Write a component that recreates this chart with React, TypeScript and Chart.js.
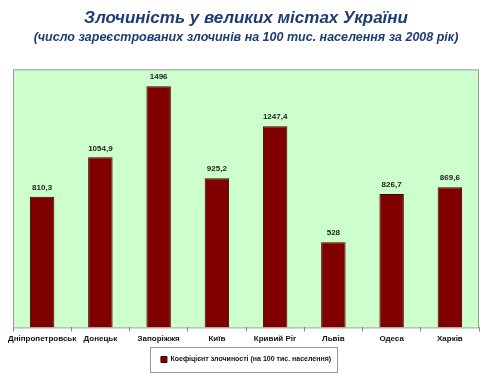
import React, { useEffect, useRef } from "react";
import { Chart, registerables } from "chart.js";

Chart.register(...registerables);

const cities = ["Дніпропетровськ", "Донецьк", "Запоріжжя", "Київ", "Кривий Ріг", "Львів", "Одеса", "Харків"];
const crimeRate = [810.3, 1054.9, 1496, 925.2, 1247.4, 528, 826.7, 869.6];
const seriesName = "Коефіцієнт злочиності (на 100 тис. населення)";
const titleText = "Злочиність у великих містах України";
const subtitleText = "(число зареєстрованих злочинів на 100 тис. населення за 2008 рік)";

const fmt = (v: number) => String(v).replace(".", ",");

const bgPlugin = {
  id: "bgPlugin",
  beforeDraw(chart: any) {
    const { ctx, chartArea: a } = chart;
    ctx.save();
    ctx.fillStyle = "#ffffff";
    ctx.fillRect(0, 0, chart.width, chart.height);
    ctx.fillStyle = "#CCFFCC";
    ctx.fillRect(a.left, a.top, a.right - a.left, a.bottom - a.top);
    ctx.strokeStyle = "#9a9a9a";
    ctx.lineWidth = 1;
    ctx.strokeRect(a.left + 0.5, a.top + 0.5, a.right - a.left - 1, a.bottom - a.top);
    ctx.restore();
  },
  afterDraw(chart: any) {
    const { ctx } = chart;
    const meta = chart.getDatasetMeta(0);
    ctx.save();
    ctx.font = "bold 8px Arial, 'Liberation Sans', sans-serif";
    ctx.fillStyle = "#222222";
    ctx.textAlign = "center";
    ctx.textBaseline = "bottom";
    meta.data.forEach((bar: any, i: number) => {
      ctx.fillText(fmt(crimeRate[i]), bar.x, bar.y - 5);
    });
    const lg = chart.legend;
    if (lg && lg.legendHitBoxes && lg.legendHitBoxes.length) {
      const hb = lg.legendHitBoxes;
      const l = Math.min(...hb.map((h: any) => h.left)) - 11;
      const r = Math.max(...hb.map((h: any) => h.left + h.width)) + 6;
      const t = Math.min(...hb.map((h: any) => h.top)) - 9;
      const b = Math.max(...hb.map((h: any) => h.top + h.height)) + 9;
      ctx.strokeStyle = "#9a9a9a";
      ctx.lineWidth = 1;
      ctx.strokeRect(Math.round(l) + 0.5, Math.round(t) + 0.5, Math.round(r - l), Math.round(b - t));
    }
    ctx.restore();
  },
};

export default function App() {
  const ref = useRef<HTMLCanvasElement>(null);
  useEffect(() => {
    document.body.style.margin = "0";
    const chart = new Chart(ref.current!, {
      type: "bar",
      data: {
        labels: cities,
        datasets: [
          {
            label: seriesName,
            data: crimeRate,
            backgroundColor: "#800000",
            borderColor: "#3a0000",
            borderWidth: 1,
            barPercentage: 0.42,
            categoryPercentage: 1,
          },
        ],
      },
      options: {
        animation: false,
        responsive: false,
        maintainAspectRatio: false,
        layout: { padding: { left: 13, right: 19, top: 0, bottom: 10 } },
        plugins: {
          title: {
            display: true,
            text: titleText,
            color: "#1F3B73",
            font: { family: "Arial, 'Liberation Sans', sans-serif", size: 17, weight: "bold", style: "italic" },
            padding: { top: 8, bottom: 2 },
          },
          subtitle: {
            display: true,
            text: subtitleText,
            color: "#1F3B73",
            font: { family: "Arial, 'Liberation Sans', sans-serif", size: 12.5, weight: "bold", style: "italic" },
            padding: { top: 0, bottom: 24 },
          },
          legend: {
            display: true,
            position: "bottom",
            labels: {
              boxWidth: 6,
              boxHeight: 6,
              color: "#111111",
              padding: 9,
              font: { family: "Arial, 'Liberation Sans', sans-serif", size: 7, weight: "bold" },
            },
          },
          tooltip: { enabled: false },
        },
        scales: {
          x: {
            offset: true,
            grid: { display: true, offset: true, drawOnChartArea: false, tickLength: 4, color: "#888888" },
            border: { display: false },
            ticks: {
              color: "#111111",
              font: { family: "Arial, 'Liberation Sans', sans-serif", size: 8, weight: "bold" },
              maxRotation: 0,
              autoSkip: false,
              padding: 3,
            },
          },
          y: {
            display: false,
            min: 0,
            max: 1600,
          },
        },
      },
      plugins: [bgPlugin],
    });
    return () => chart.destroy();
  }, []);
  return <canvas ref={ref} width={498} height={383} style={{ display: "block" }} />;
}
